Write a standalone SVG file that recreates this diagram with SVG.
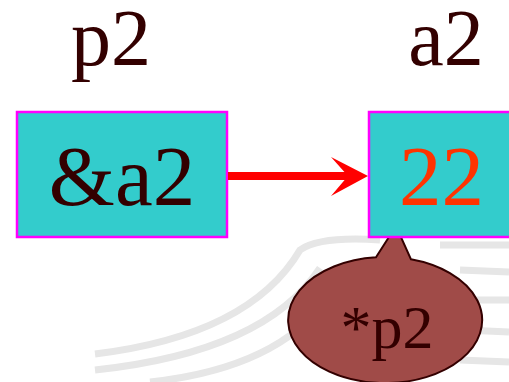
<svg xmlns="http://www.w3.org/2000/svg" width="509" height="382" viewBox="0 0 509 382">
  <style>
    .box { fill: #33CCCC; stroke: #FF00FF; stroke-width: 2.5; }
    .t { font-family: "Liberation Serif", "Times New Roman", serif; fill: #330000; text-anchor: middle; }
    .wm { fill: none; stroke: #E6E6E6; stroke-width: 7; }
  </style>
  <rect width="509" height="382" fill="#FFFFFF"/>
  <g id="watermark">
    <path class="wm" d="M 95,354 Q 250,335 300,250 Q 320,236 380,240"/>
    <path class="wm" d="M 95,370 Q 265,352 320,268"/>
    <path class="wm" d="M 150,382 Q 280,368 330,295"/>
    <path class="wm" d="M 440,245 L 509,245 M 460,270 L 509,272 M 470,300 L 509,300 M 465,330 L 509,332 M 460,360 L 509,362" stroke-width="10" stroke="#E9E9E9"/>
  </g>
  <g id="label-p2"><text class="t" x="111" y="65" font-size="80">p2</text></g>
  <g id="label-a2"><text class="t" x="446" y="65" font-size="80">a2</text></g>
  <g id="callout">
    <path d="M 376,257.3 L 396,226 L 411,259.3 A 97 63 0 1 1 376,257.3 Z" fill="#A04B48" stroke="#330000" stroke-width="2"/>
    <text class="t" x="387" y="348" font-size="62">*p2</text>
  </g>
  <g id="node-p2">
    <rect class="box" x="17" y="112" width="210" height="125"/>
    <text class="t" x="122" y="205" font-size="85">&amp;a2</text>
  </g>
  <g id="node-a2">
    <rect class="box" x="369" y="112" width="150" height="125"/>
    <text class="t" x="441.5" y="205" font-size="85" style="fill:#FF3300">22</text>
  </g>
  <g id="connectors">
    <line x1="228" y1="176" x2="350" y2="176" stroke="#FF0000" stroke-width="8"/>
    <polygon points="331,157 368,176 331,196 348,176" fill="#FF0000"/>
  </g>
</svg>
